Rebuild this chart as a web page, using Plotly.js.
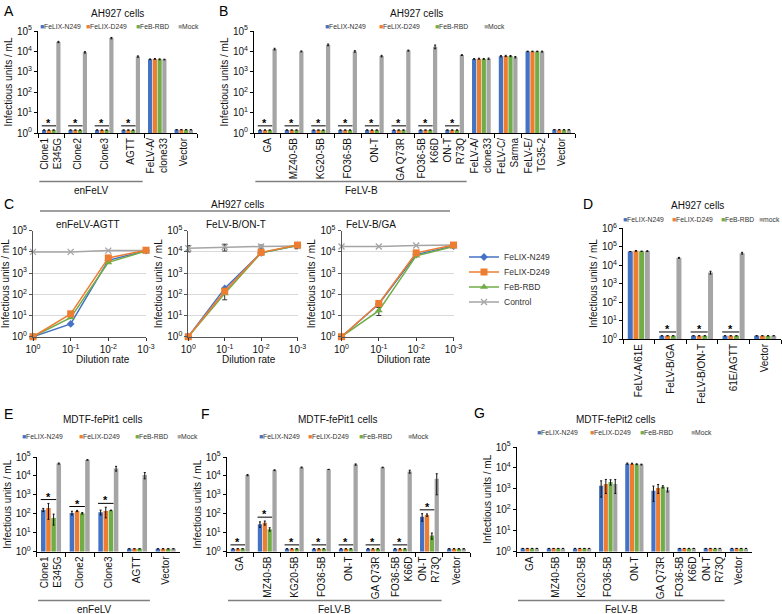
<!DOCTYPE html>
<html><head><meta charset="utf-8">
<script src="https://cdn.plot.ly/plotly-3.0.1.min.js"></script>
<style>html,body{margin:0;padding:0;background:#fff}#chart{width:782px;height:614px}</style>
</head><body><div id="chart"></div>
<script>
// ---------------- DATA ----------------
const seriesNames = ['FeLIX-N249','FeLIX-D249','FeB-RBD','Mock'];
const seriesNamesD = ['FeLIX-N249','FeLIX-D249','FeB-RBD','mock'];
const lineNames = ['FeLIX-N249','FeLIX-D249','FeB-RBD','Control'];

// Panel A (AH927, enFeLV)
const catsA = ['Clone1 E345G','Clone2','Clone3','AGTT','FeLV-A/clone33','Vector'];
const ticksA = ['Clone1<br>E345G','Clone2','Clone3','AGTT','FeLV-A/<br>clone33','Vector'];
const A_N249 = [1.4,1.4,1.4,1.4,4100,1.45];
const A_D249 = [1.4,1.4,1.4,1.4,4300,1.45];
const A_RBD  = [1.4,1.4,1.4,1.4,4100,1.45];
const A_Mock = [29000,9000,45000,5600,4000,1.45];
const A_N249err = [0,0,0,0,150,0];
const A_D249err = [0,0,0,0,200,0];
const A_RBDerr  = [0,0,0,0,200,0];
const A_Mockerr = [2000,700,3500,400,150,0];
const A_sig = [1,1,1,1,0,0];

// Panel B (AH927, FeLV-B etc.)
const catsB = ['GA','MZ40-5B','KG20-5B','FO36-5B','ON-T','GA Q73R','FO36-5B K66D','ON-T R73Q','FeLV-A/clone33','FeLV-C/Sarma','FeLV-E/TG35-2','Vector'];
const ticksB = ['GA','MZ40-5B','KG20-5B','FO36-5B','ON-T','GA Q73R','FO36-5B<br>K66D','ON-T<br>R73Q','FeLV-A/<br>clone33','FeLV-C/<br>Sarma','FeLV-E/<br>TG35-2','Vector'];
const B_N249 = [1.4,1.4,1.4,1.4,1.4,1.4,1.4,1.4,4300,5800,10000,1.45];
const B_D249 = [1.4,1.4,1.4,1.4,1.4,1.4,1.4,1.4,4400,6000,10000,1.45];
const B_RBD  = [1.4,1.4,1.4,1.4,1.4,1.4,1.4,1.4,4300,5900,10000,1.45];
const B_Mock = [13000,10000,21000,10000,5900,11000,17000,6600,4400,5200,9800,1.45];
const B_N249err = [0,0,0,0,0,0,0,0,150,400,300,0];
const B_D249err = [0,0,0,0,0,0,0,0,200,400,300,0];
const B_RBDerr  = [0,0,0,0,0,0,0,0,200,400,300,0];
const B_Mockerr = [1200,500,2000,800,500,600,3500,300,300,400,500,0];
const B_sig = [1,1,1,1,1,1,1,1,0,0,0,0];

// Panel C (dilution series)
const dilution = [1,0.1,0.01,0.001];
const dilTicks = ['10<sup>0</sup>','10<sup>-1</sup>','10<sup>-2</sup>','10<sup>-3</sup>'];
const C1_N249 = [1,4,4000,11500];
const C1_D249 = [1,12,5200,12000];
const C1_RBD  = [1,8,3200,11000];
const C1_Ctrl = [10000,10000,11500,11500];
const C2_N249 = [1,190,9000,20000];
const C2_D249 = [1,140,9500,21000];
const C2_RBD  = [1,110,9000,20000];
const C2_Ctrl = [15000,17000,18000,19000];
const C2_D249err = [0,0,0,6000];
const C2_RBDerr  = [0,55,0,0];
const C2_Ctrlerr = [5000,6000,3000,5000];
const C3_N249 = [1,35,7500,19000];
const C3_D249 = [1,37,9000,21000];
const C3_RBD  = [1,17,6500,18000];
const C3_Ctrl = [18000,18000,20000,21000];
const C3_RBDerr = [0,7,0,0];

// Panel D (AH927)
const catsD = ['FeLV-A/61E','FeLV-B/GA','FeLV-B/ON-T','61E/AGTT','Vector'];
const D_N249 = [55000,1.5,1.5,1.5,1.5];
const D_D249 = [60000,1.5,1.5,1.5,1.5];
const D_RBD  = [57000,1.5,1.5,1.5,1.5];
const D_Mock = [58000,25000,4000,45000,1.5];
const D_N249err = [0,0,0,0,0];
const D_D249err = [3000,0,0,0,0];
const D_RBDerr  = [0,0,0,0,0];
const D_Mockerr = [3000,1500,700,5000,0];
const D_sig = [0,1,1,1,0];

// Panel E (MDTF-fePit1, enFeLV)
const catsE = ['Clone1 E345G','Clone2','Clone3','AGTT','Vector'];
const ticksE = ['Clone1<br>E345G','Clone2','Clone3','AGTT','Vector'];
const E_N249 = [160,110,120,1.4,1.4];
const E_D249 = [200,140,140,1.4,1.4];
const E_RBD  = [60,105,150,1.4,1.4];
const E_Mock = [45000,70000,25000,11000,1.4];
const E_N249err = [30,25,35,0,0];
const E_D249err = [150,10,80,0,0];
const E_RBDerr  = [35,10,5,0,0];
const E_Mockerr = [3000,2000,7000,4000,0];
const E_sig = [1,1,1,0,0];

// Panel F (MDTF-fePit1, FeLV-B)
const catsF = ['GA','MZ40-5B','KG20-5B','FO36-5B','ON-T','GA Q73R','FO36-5B K66D','ON-T R73Q','Vector'];
const ticksF = ['GA','MZ40-5B','KG20-5B','FO36-5B','ON-T','GA Q73R','FO36-5B<br>K66D','ON-T<br>R73Q','Vector'];
const F_N249 = [1.4,28,1.4,1.4,1.4,1.4,1.4,70,1.4];
const F_D249 = [1.4,33,1.4,1.4,1.4,1.4,1.4,85,1.4];
const F_RBD  = [1.4,15,1.4,1.4,1.4,1.4,1.4,7,1.4];
const F_Mock = [11000,20000,28000,22000,40000,28000,17000,7000,1.4];
const F_N249err = [0,9,0,0,0,0,0,30,0];
const F_D249err = [0,8,0,0,0,0,0,12,0];
const F_RBDerr  = [0,3,0,0,0,0,0,2.5,0];
const F_Mockerr = [800,1000,1500,0,3000,1000,3000,6000,0];
const F_sig = [1,1,1,1,1,1,1,1,0];

// Panel G (MDTF-fePit2, FeLV-B)
const catsG = catsF;
const ticksG = ticksF;
const G_N249 = [1.4,1.4,1.4,1400,16000,800,1.4,1.4,1.4];
const G_D249 = [1.4,1.4,1.4,1700,16000,1100,1.4,1.4,1.4];
const G_RBD  = [1.4,1.4,1.4,2100,15000,1250,1.4,1.4,1.4];
const G_Mock = [1.4,1.4,1.4,1700,14500,900,1.4,1.4,1.4];
const G_N249err = [0,0,0,1000,1000,550,0,0,0];
const G_D249err = [0,0,0,1100,800,500,0,0,0];
const G_RBDerr  = [0,0,0,600,700,150,0,0,0];
const G_Mockerr = [0,0,0,1100,600,200,0,0,0];
const G_sig = [0,0,0,0,0,0,0,0,0];

// ---------------- LAYOUT HELPERS ----------------
const W = 782, H = 614;
const fx = p => p / W, fy = p => 1 - p / H;
const COL = ['#4472C4','#ED7D31','#70AD47','#A5A5A5'];
const FONT = '"Liberation Sans", Arial, Helvetica, sans-serif';
const BARGAP = 0.28, SLOT = (1 - BARGAP) / 4;
const sup = n => '10<sup>' + n + '</sup>';

const traces = [], shapes = [], annotations = [];
const layout = {
  width: W, height: H, margin: {l:0, r:0, t:0, b:0},
  paper_bgcolor: '#fff', plot_bgcolor: '#fff',
  font: {family: FONT, color: '#222', size: 10},
  barmode: 'group', bargap: BARGAP, bargroupgap: 0.12,
  showlegend: true
};

function ids(n){ const s = n === 1 ? '' : String(n); return {xk:'xaxis'+s, yk:'yaxis'+s, xr:'x'+s, yr:'y'+s}; }

function logAxis(range, yd, xr){
  const vals = [], txt = [];
  for (let e = range[0]; e <= range[1]; e++){ vals.push(Math.pow(10, e)); txt.push(sup(e)); }
  return {domain:[fy(yd[1]), fy(yd[0])], anchor:xr, type:'log', range:range,
    tickmode:'array', tickvals:vals, ticktext:txt, ticks:'outside', ticklen:3, tickcolor:'#000',
    showline:true, linecolor:'#000', linewidth:1, showgrid:false, zeroline:false,
    tickfont:{size:10, color:'#111'},
    title:{text:'Infectious units / mL', font:{size:10, color:'#111'}, standoff:2}};
}

function label(x, y, text, size, extra){
  annotations.push(Object.assign({xref:'paper', yref:'paper', x:fx(x), y:fy(y), text:text,
    showarrow:false, font:{size:size, color:'#111'}, xanchor:'center', yanchor:'middle'}, extra || {}));
}

function barPanel(p){
  const {xk, yk, xr, yr} = ids(p.n);
  p.vals.forEach((v, k) => {
    const e = p.errs[k];
    traces.push({type:'bar', x:p.cats, y:v, name:p.names[k], xaxis:xr, yaxis:yr, showlegend:false,
      marker:{color:COL[k], line:{width:0}},
      error_y:{type:'data', symmetric:false,
        array:e.map(d => d > 0 ? d : null),
        arrayminus:e.map((d, i) => d > 0 ? Math.min(d, v[i] * 0.9) : null),
        visible:true, color:'#111', thickness:1, width:1}});
  });
  layout[xk] = {domain:[fx(p.xd[0]), fx(p.xd[1])], anchor:yr, type:'category',
    categoryorder:'array', categoryarray:p.cats, tickmode:'array', tickvals:p.cats, ticktext:p.ticks,
    tickangle:-90, ticks:'outside', ticklen:4, tickcolor:'#000', tickson:'boundaries',
    showline:true, linecolor:'#000', linewidth:1, showgrid:false, zeroline:false,
    range:[-0.5, p.cats.length - 0.5], tickfont:{size:10, color:'#111'}};
  layout[yk] = logAxis(p.yr, p.yd, xr);
  // significance marks
  p.sig.forEach((s, i) => {
    if (!s) return;
    let top = 0;
    for (let k = 0; k < 3; k++) top = Math.max(top, p.vals[k][i] + p.errs[k][i]);
    const f = (Math.log10(top * 1.6) - p.yr[0]) / (p.yr[1] - p.yr[0]);
    shapes.push({type:'line', xref:xr, yref:yr + ' domain', x0:i - 2 * SLOT, x1:i + SLOT, y0:f, y1:f,
      line:{color:'#000', width:1}});
    annotations.push({xref:xr, yref:yr + ' domain', x:i - 0.5 * SLOT, y:f, text:'<b>*</b>', showarrow:false,
      font:{size:11, color:'#000'}, xanchor:'center', yanchor:'middle', yshift:3});
  });
  // group brackets
  (p.groups || []).forEach(g => {
    const a = p.cats.indexOf(g.from), b = p.cats.indexOf(g.to);
    shapes.push({type:'line', xref:xr, yref:'paper', x0:a - 0.45, x1:b + 0.45,
      y0:fy(p.groupY), y1:fy(p.groupY), line:{color:'#7f7f7f', width:1.5}});
    annotations.push({xref:xr, yref:'paper', x:(a + b) / 2, y:fy(p.groupY + 9), text:g.label,
      showarrow:false, font:{size:10, color:'#111'}, xanchor:'center', yanchor:'middle'});
  });
  // legend row
  p.names.forEach((nm, k) => annotations.push({xref:'paper', yref:'paper', x:fx(p.legX[k]), y:fy(p.legY),
    xanchor:'left', yanchor:'middle', showarrow:false, borderpad:0,
    text:'<span style="color:' + COL[k] + '">■</span>' + nm, font:{size:6.8, color:'#333'}}));
  label(p.titleX, p.titleY, p.title, 10);
  label(p.letterX, p.letterY, p.letter, 14, {xanchor:'left', yanchor:'top', font:{size:14, color:'#000'}});
}

barPanel({n:1, cats:catsA, ticks:ticksA, names:seriesNames,
  vals:[A_N249, A_D249, A_RBD, A_Mock], errs:[A_N249err, A_D249err, A_RBDerr, A_Mockerr], sig:A_sig,
  groups:[{label:'enFeLV', from:'Clone1 E345G', to:'AGTT'}], groupY:181.5,
  xd:[38,197], yd:[31,133], yr:[0,5], legX:[39,85,135,177], legY:26.5,
  title:'AH927 cells', titleX:118, titleY:13.5, letter:'A', letterX:2, letterY:1});

barPanel({n:2, cats:catsB, ticks:ticksB, names:seriesNames,
  vals:[B_N249, B_D249, B_RBD, B_Mock], errs:[B_N249err, B_D249err, B_RBDerr, B_Mockerr], sig:B_sig,
  groups:[{label:'FeLV-B', from:'GA', to:'ON-T R73Q'}], groupY:181.5,
  xd:[254,575], yd:[31,133], yr:[0,5], legX:[324,378,434,483], legY:26.5,
  title:'AH927 cells', titleX:416, titleY:13.5, letter:'B', letterX:217, letterY:1});

barPanel({n:6, cats:catsD, ticks:catsD, names:seriesNamesD,
  vals:[D_N249, D_D249, D_RBD, D_Mock], errs:[D_N249err, D_D249err, D_RBDerr, D_Mockerr], sig:D_sig,
  groups:[], xd:[623,781], yd:[228.3,339], yr:[0,6], legX:[622,670.5,719.5,758], legY:220,
  title:'AH927 cells', titleX:697, titleY:205.5, letter:'D', letterX:581, letterY:194});

barPanel({n:7, cats:catsE, ticks:ticksE, names:seriesNames,
  vals:[E_N249, E_D249, E_RBD, E_Mock], errs:[E_N249err, E_D249err, E_RBDerr, E_Mockerr], sig:E_sig,
  groups:[{label:'enFeLV', from:'Clone1 E345G', to:'AGTT'}], groupY:600.5,
  xd:[36.7,180], yd:[457,551.5], yr:[0,5], legX:[21,78,133.5,175.5], legY:436.5,
  title:'MDTF-fePit1 cells', titleX:103, titleY:419, letter:'E', letterX:2, letterY:404});

barPanel({n:8, cats:catsF, ticks:ticksF, names:seriesNames,
  vals:[F_N249, F_D249, F_RBD, F_Mock], errs:[F_N249err, F_D249err, F_RBDerr, F_Mockerr], sig:F_sig,
  groups:[{label:'FeLV-B', from:'GA', to:'ON-T R73Q'}], groupY:600.5,
  xd:[226.7,470], yd:[457,551.5], yr:[0,5], legX:[258,307,358,406.5], legY:436.5,
  title:'MDTF-fePit1 cells', titleX:337, titleY:419, letter:'F', letterX:199, letterY:404});

barPanel({n:9, cats:catsG, ticks:ticksG, names:seriesNames,
  vals:[G_N249, G_D249, G_RBD, G_Mock], errs:[G_N249err, G_D249err, G_RBDerr, G_Mockerr], sig:G_sig,
  groups:[{label:'FeLV-B', from:'GA', to:'ON-T R73Q'}], groupY:600.5,
  xd:[516.7,752], yd:[447,551.5], yr:[0,5], legX:[536,589,639,690], legY:432.5,
  title:'MDTF-fePit2 cells', titleX:615.5, titleY:419, letter:'G', letterX:472, letterY:403});

// ---------------- PANEL C (line charts) ----------------
const markers = [
  {symbol:'diamond', size:6},
  {symbol:'square', size:7},
  {symbol:'triangle-up', size:7},
  {symbol:'x-thin-open', size:6, line:{width:1.3, color:COL[3]}}
];
const legendIds = ['legend','legend2','legend3','legend4'];
const cPanels = [
  {n:3, title:'enFeLV-AGTT', xd:[33,146], titleX:88, dilX:103,
   vals:[C1_N249, C1_D249, C1_RBD, C1_Ctrl], errs:[null, null, null, null]},
  {n:4, title:'FeLV-B/ON-T', xd:[188.3,297.5], titleX:236, dilX:249,
   vals:[C2_N249, C2_D249, C2_RBD, C2_Ctrl], errs:[null, C2_D249err, C2_RBDerr, C2_Ctrlerr]},
  {n:5, title:'FeLV-B/GA', xd:[341.5,453.5], titleX:371, dilX:404,
   vals:[C3_N249, C3_D249, C3_RBD, C3_Ctrl], errs:[null, null, C3_RBDerr, null]}
];
const drawOrder = [3, 0, 2, 1];
cPanels.forEach((p, pi) => {
  const {xk, yk, xr, yr} = ids(p.n);
  drawOrder.forEach(k => {
    const e = p.errs[k];
    const m = Object.assign({color:COL[k]}, markers[k]);
    traces.push({type:'scatter', mode:'lines+markers', x:dilution, y:p.vals[k], name:lineNames[k],
      xaxis:xr, yaxis:yr, cliponaxis:false, line:{color:COL[k], width:1.5}, marker:m,
      legend:legendIds[k], showlegend:pi === 0,
      error_y: e ? {type:'data', symmetric:false, array:e.map(d => d > 0 ? d : null),
        arrayminus:e.map((d, i) => d > 0 ? Math.min(d, p.vals[k][i] * 0.9) : null),
        visible:true, color:'#333', thickness:1, width:2.5} : {visible:false}});
  });
  layout[xk] = {domain:[fx(p.xd[0]), fx(p.xd[1])], anchor:yr, type:'log', range:[0, -3.0],
    tickmode:'array', tickvals:dilution, ticktext:dilTicks, ticks:'outside', ticklen:3, tickcolor:'#333',
    showline:true, linecolor:'#555', linewidth:1, showgrid:false, zeroline:false,
    tickfont:{size:10, color:'#111'}};
  const ya = logAxis([0,5], [230.7,336.7], xr);
  ya.showgrid = true; ya.gridcolor = '#D9D9D9'; ya.gridwidth = 1;
  ya.linecolor = '#555'; ya.tickcolor = '#555';
  layout[yk] = ya;
  label(p.titleX, 224.5, p.title, 10);
  label(p.dilX, 359, 'Dilution rate', 10);
});
// shared header of panel C
shapes.push({type:'line', xref:'paper', yref:'paper', x0:fx(40), x1:fx(450), y0:fy(211), y1:fy(211),
  line:{color:'#7f7f7f', width:1.5}});
label(237, 205, 'AH927 cells', 10);
label(2, 194, 'C', 14, {xanchor:'left', yanchor:'top', font:{size:14, color:'#000'}});

// legends for panel C (one entry each, stacked)
const legY = [257, 272, 287, 302];
legendIds.forEach((L, k) => {
  layout[L] = {x:fx(464), y:fy(legY[k]), xanchor:'left', yanchor:'middle', bgcolor:'rgba(0,0,0,0)',
    borderwidth:0, font:{size:8.5, color:'#333'}, itemwidth:30, tracegroupgap:0};
});

layout.shapes = shapes;
layout.annotations = annotations;

Plotly.newPlot('chart', traces, layout, {displayModeBar:false, staticPlot:true});
</script>
</body></html>
